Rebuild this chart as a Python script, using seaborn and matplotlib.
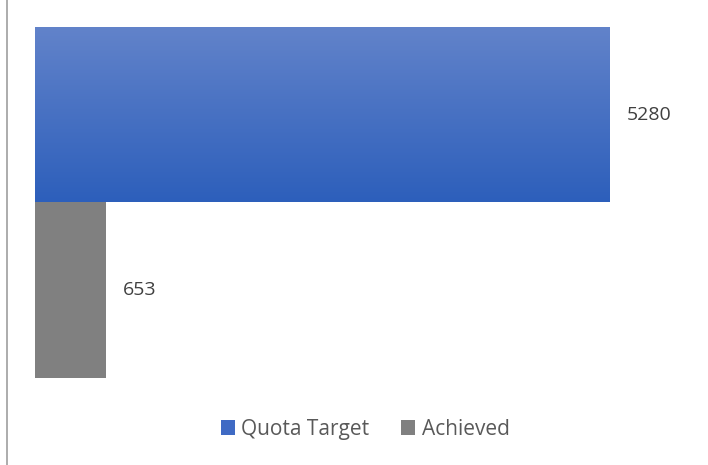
import matplotlib
matplotlib.use("Agg")
import matplotlib.pyplot as plt
import seaborn as sns
import pandas as pd
import numpy as np
from matplotlib.lines import Line2D
from matplotlib.patches import Patch
from matplotlib.colors import LinearSegmentedColormap

categories = ["Quota Target", "Achieved"]
values = [5280, 653]
colors = ["#3f6ac4", "#808080"]

sns.set_theme(style="white")
plt.rcParams['font.family'] = ['Open Sans', 'DejaVu Sans']

df = pd.DataFrame({"category": categories, "value": values})

fig = plt.figure(figsize=(7.08, 4.65), dpi=100)
ax = fig.add_axes([35 / 708, 87 / 465, 665 / 708, 351 / 465])

sns.barplot(data=df, x="value", y="category", hue="category", palette=colors,
            width=1.0, legend=False, ax=ax, saturation=1, linewidth=0)

# gradient fill for the blue bar
blue_bar = ax.patches[0]
bx, by = blue_bar.get_x(), blue_bar.get_y()
bw, bh = blue_bar.get_width(), blue_bar.get_height()
cmap = LinearSegmentedColormap.from_list("grad", ["#6283ca", "#2d5fbb"])
grad = np.linspace(0, 1, 256).reshape(-1, 1)
im = ax.imshow(grad, cmap=cmap, aspect="auto",
               extent=[bx, bx + bw, by + bh, by], zorder=blue_bar.get_zorder() + 0.1)
im.set_clip_path(blue_bar)

ax.set_xlim(0, 665 / 575 * 5280)
ax.set_ylim(1.5, -0.5)
ax.set_axis_off()

# value labels
for i, v in enumerate(values):
    ax.annotate(str(v), xy=(v, i), xytext=(17, 0), textcoords="offset pixels",
                ha="left", va="center", fontsize=14, color="#404040")

# left border line
fig.add_artist(Line2D([7 / 708, 7 / 708], [0, 1], color="#a6a6a6", lw=1.3,
                      transform=fig.transFigure))

handles = [Patch(facecolor=c, edgecolor="none") for c in ["#3f6ac4", "#808080"]]
fig.legend(handles, categories, loc="center", bbox_to_anchor=(365 / 708, 1 - 429 / 465),
           ncol=2, frameon=False, fontsize=15, handlelength=0.7, handleheight=0.7,
           handletextpad=0.3, columnspacing=1.5, labelcolor="#595959")

fig.savefig("out.png", dpi=100, facecolor="white")
